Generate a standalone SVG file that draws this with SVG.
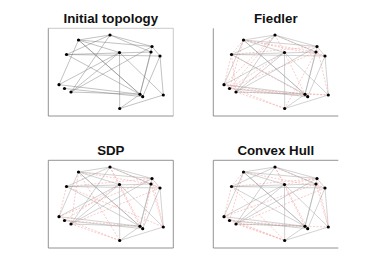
<svg xmlns="http://www.w3.org/2000/svg" xmlns:xlink="http://www.w3.org/1999/xlink" width="374" height="280" viewBox="0 0 374 280">
<style>
.title{font-family:"Liberation Sans",Arial,sans-serif;font-weight:bold;font-size:13.3px;fill:#111;text-anchor:middle}
.ax{stroke:#777;stroke-width:0.8;fill:none}
.axl{stroke:#bbb;stroke-width:0.8;fill:none}
.e0{stroke:#777;stroke-width:0.45;fill:none}
.e1{stroke:#9a9a9a;stroke-width:0.45;fill:none}
.red{stroke:#f4a0a0;stroke-width:0.55;stroke-dasharray:2 1.5;fill:none}
.n{fill:#000}
</style>
<defs>
<path id="base" d="M78.5 40L110 35M78.5 40L119.5 52.5M78.5 40L152 46.5M78.5 40L140 94.3M78.5 40L142.7 96.7M110 35L66.5 54.5M110 35L152 46.5M110 35L151 52M110 35L71 92M66.5 54.5L151 52M66.5 54.5L140 94.3M119.5 52.5L119.7 108.5M119.5 52.5L163.3 95M119.5 52.5L59 84.7M59 84.7L78.5 40M59 84.7L140 94.3M152 46.5L140 94.3M151 52L140 94.3M160 56L163.3 95M160 56L142.7 96.7M64.5 88.5L142.7 96.7M71 92L140 94.3M71 92L152 46.5M119.7 108.5L140 94.3M119.7 108.5L163.3 95M152 46.5L160 56M71 92L119.5 52.5M66.5 54.5L160 56"/>
</defs>
<g id="frames">
<path class="axl" d="M48.3 28.3H173.3V116"/>
<path class="ax" d="M48.3 28.3V116H173.3"/>
<path class="ax" d="M213.3 28.3V116H338.3"/>
<path class="ax" d="M48.3 160.3H173.3V248H48.3Z"/>
<path class="ax" d="M338.3 160.3H213.3V248H338.3"/>
</g>
<g id="titles">
<text class="title" x="110.8" y="22.5">Initial topology</text>
<text class="title" x="275.8" y="22.5">Fiedler</text>
<text class="title" x="110.8" y="154.5">SDP</text>
<text class="title" x="275.8" y="154.5">Convex Hull</text>
</g>
<g id="connectors">
<use xlink:href="#base" class="e0"/>
<g transform="translate(165,0)">
<path class="red" d="M78.5 40L66.5 54.5M66.5 54.5L59 84.7M78.5 40L64.5 88.5M66.5 54.5L71 92M110 35L59 84.7M110 35L64.5 88.5M119.5 52.5L64.5 88.5M59 84.7L119.7 108.5M71 92L119.7 108.5M64.5 88.5L163.3 95M71 92L163.3 95M59 84.7L142.7 96.7M110 35L160 56M78.5 40L151 52M152 46.5L163.3 95M151 52L119.7 108.5M66.5 54.5L152 46.5M119.5 52.5L140 94.3M64.5 88.5L151 52M110 35L119.5 52.5M78.5 40L160 56M66.5 54.5L142.7 96.7"/>
<use xlink:href="#base" class="e1"/>
</g>
<g transform="translate(0,132)">
<path class="red" d="M66.5 54.5L59 84.7M78.5 40L71 92M110 35L119.5 52.5M110 35L160 56M152 46.5L163.3 95M151 52L163.3 95M66.5 54.5L163.3 95M59 84.7L119.7 108.5M71 92L119.7 108.5M64.5 88.5L140 94.3M78.5 40L119.7 108.5M119.5 52.5L142.7 96.7M66.5 54.5L152 46.5M78.5 40L151 52M152 46.5L142.7 96.7M110 35L140 94.3M59 84.7L152 46.5M64.5 88.5L119.5 52.5M71 92L160 56M151 52L160 56"/>
<use xlink:href="#base" class="e1"/>
</g>
<g transform="translate(165,132)">
<path class="red" d="M78.5 40L66.5 54.5M66.5 54.5L59 84.7M78.5 40L64.5 88.5M110 35L119.5 52.5M110 35L160 56M78.5 40L160 56M152 46.5L163.3 95M151 52L163.3 95M59 84.7L119.7 108.5M71 92L119.7 108.5M64.5 88.5L119.7 108.5M71 92L163.3 95M64.5 88.5L140 94.3M66.5 54.5L152 46.5M119.5 52.5L142.7 96.7M110 35L140 94.3M59 84.7L151 52M66.5 54.5L119.7 108.5M71 92L160 56M119.5 52.5L152 46.5"/>
<use xlink:href="#base" class="e1"/>
</g>
</g>
<g id="nodes1">
<g id="p1-A"><circle class="n" cx="78.5" cy="40" r="1.6"/></g>
<g id="p1-B"><circle class="n" cx="110" cy="35" r="1.6"/></g>
<g id="p1-C"><circle class="n" cx="66.5" cy="54.5" r="1.6"/></g>
<g id="p1-D"><circle class="n" cx="119.5" cy="52.5" r="1.6"/></g>
<g id="p1-E"><circle class="n" cx="152" cy="46.5" r="1.6"/></g>
<g id="p1-F"><circle class="n" cx="151" cy="52" r="1.6"/></g>
<g id="p1-G"><circle class="n" cx="160" cy="56" r="1.6"/></g>
<g id="p1-H"><circle class="n" cx="59" cy="84.7" r="1.6"/></g>
<g id="p1-I"><circle class="n" cx="64.5" cy="88.5" r="1.6"/></g>
<g id="p1-J"><circle class="n" cx="71" cy="92" r="1.6"/></g>
<g id="p1-K"><circle class="n" cx="140" cy="94.3" r="1.6"/></g>
<g id="p1-L"><circle class="n" cx="142.7" cy="96.7" r="1.6"/></g>
<g id="p1-M"><circle class="n" cx="163.3" cy="95" r="1.6"/></g>
<g id="p1-N"><circle class="n" cx="119.7" cy="108.5" r="1.6"/></g>
</g>
<g id="nodes2" transform="translate(165,0)">
<g id="p2-A"><circle class="n" cx="78.5" cy="40" r="1.6"/></g>
<g id="p2-B"><circle class="n" cx="110" cy="35" r="1.6"/></g>
<g id="p2-C"><circle class="n" cx="66.5" cy="54.5" r="1.6"/></g>
<g id="p2-D"><circle class="n" cx="119.5" cy="52.5" r="1.6"/></g>
<g id="p2-E"><circle class="n" cx="152" cy="46.5" r="1.6"/></g>
<g id="p2-F"><circle class="n" cx="151" cy="52" r="1.6"/></g>
<g id="p2-G"><circle class="n" cx="160" cy="56" r="1.6"/></g>
<g id="p2-H"><circle class="n" cx="59" cy="84.7" r="1.6"/></g>
<g id="p2-I"><circle class="n" cx="64.5" cy="88.5" r="1.6"/></g>
<g id="p2-J"><circle class="n" cx="71" cy="92" r="1.6"/></g>
<g id="p2-K"><circle class="n" cx="140" cy="94.3" r="1.6"/></g>
<g id="p2-L"><circle class="n" cx="142.7" cy="96.7" r="1.6"/></g>
<g id="p2-M"><circle class="n" cx="163.3" cy="95" r="1.6"/></g>
<g id="p2-N"><circle class="n" cx="119.7" cy="108.5" r="1.6"/></g>
</g>
<g id="nodes3" transform="translate(0,132)">
<g id="p3-A"><circle class="n" cx="78.5" cy="40" r="1.6"/></g>
<g id="p3-B"><circle class="n" cx="110" cy="35" r="1.6"/></g>
<g id="p3-C"><circle class="n" cx="66.5" cy="54.5" r="1.6"/></g>
<g id="p3-D"><circle class="n" cx="119.5" cy="52.5" r="1.6"/></g>
<g id="p3-E"><circle class="n" cx="152" cy="46.5" r="1.6"/></g>
<g id="p3-F"><circle class="n" cx="151" cy="52" r="1.6"/></g>
<g id="p3-G"><circle class="n" cx="160" cy="56" r="1.6"/></g>
<g id="p3-H"><circle class="n" cx="59" cy="84.7" r="1.6"/></g>
<g id="p3-I"><circle class="n" cx="64.5" cy="88.5" r="1.6"/></g>
<g id="p3-J"><circle class="n" cx="71" cy="92" r="1.6"/></g>
<g id="p3-K"><circle class="n" cx="140" cy="94.3" r="1.6"/></g>
<g id="p3-L"><circle class="n" cx="142.7" cy="96.7" r="1.6"/></g>
<g id="p3-M"><circle class="n" cx="163.3" cy="95" r="1.6"/></g>
<g id="p3-N"><circle class="n" cx="119.7" cy="108.5" r="1.6"/></g>
</g>
<g id="nodes4" transform="translate(165,132)">
<g id="p4-A"><circle class="n" cx="78.5" cy="40" r="1.6"/></g>
<g id="p4-B"><circle class="n" cx="110" cy="35" r="1.6"/></g>
<g id="p4-C"><circle class="n" cx="66.5" cy="54.5" r="1.6"/></g>
<g id="p4-D"><circle class="n" cx="119.5" cy="52.5" r="1.6"/></g>
<g id="p4-E"><circle class="n" cx="152" cy="46.5" r="1.6"/></g>
<g id="p4-F"><circle class="n" cx="151" cy="52" r="1.6"/></g>
<g id="p4-G"><circle class="n" cx="160" cy="56" r="1.6"/></g>
<g id="p4-H"><circle class="n" cx="59" cy="84.7" r="1.6"/></g>
<g id="p4-I"><circle class="n" cx="64.5" cy="88.5" r="1.6"/></g>
<g id="p4-J"><circle class="n" cx="71" cy="92" r="1.6"/></g>
<g id="p4-K"><circle class="n" cx="140" cy="94.3" r="1.6"/></g>
<g id="p4-L"><circle class="n" cx="142.7" cy="96.7" r="1.6"/></g>
<g id="p4-M"><circle class="n" cx="163.3" cy="95" r="1.6"/></g>
<g id="p4-N"><circle class="n" cx="119.7" cy="108.5" r="1.6"/></g>
</g>
</svg>
